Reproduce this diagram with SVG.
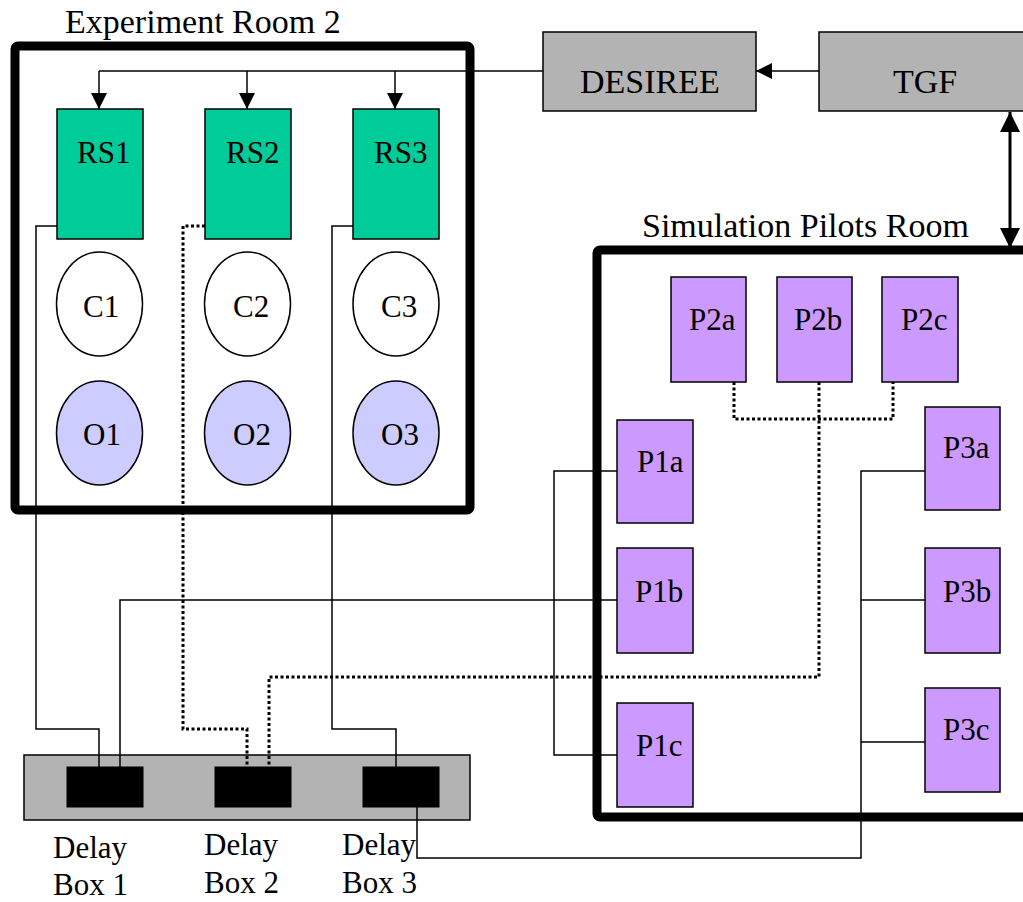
<svg xmlns="http://www.w3.org/2000/svg" width="1023" height="902" viewBox="0 0 1023 902">
  <style>
    text { font-family: "Liberation Serif", "Times New Roman", serif; fill: #000; }
    .title { font-size: 34px; }
    .lbl { font-size: 31px; }
    .room { fill: none; stroke: #000; stroke-width: 9; stroke-linejoin: round; }
    .rs { fill: #00CC99; stroke: #000; stroke-width: 1.5; }
    .ctl { fill: #FFFFFF; stroke: #000; stroke-width: 1.5; }
    .obs { fill: #CCCCFF; stroke: #000; stroke-width: 1.5; }
    .pilot { fill: #CC99FF; stroke: #000; stroke-width: 1.5; }
    .gray { fill: #B3B3B3; stroke: #000; stroke-width: 1.5; }
    .dbox { fill: #000; stroke: #000; stroke-width: 1; }
    .wire { fill: none; stroke: #000; stroke-width: 1.5; }
    .dot { fill: none; stroke: #000; stroke-width: 3; stroke-dasharray: 3 2.5; }
    .link { fill: none; stroke: #000; stroke-width: 1.5; }
    .bus { fill: none; stroke: #000; stroke-width: 3; }
  </style>
  <defs>
    <marker id="head" markerUnits="userSpaceOnUse" viewBox="0 0 16 16" refX="16" refY="8" markerWidth="16" markerHeight="16" orient="auto">
      <path d="M0,0 L16,8 L0,16 z" fill="#000"/>
    </marker>
    <marker id="bighead" markerUnits="userSpaceOnUse" viewBox="0 0 20 20" refX="20" refY="10" markerWidth="20" markerHeight="20" orient="auto-start-reverse">
      <path d="M0,0 L20,10 L0,20 z" fill="#000"/>
    </marker>
  </defs>

  <!-- rooms -->
  <g id="experiment-room">
    <rect class="room" x="15" y="46" width="455" height="464" rx="3"/>
    <text class="title" x="65" y="33">Experiment Room 2</text>
  </g>
  <g id="simulation-room">
    <rect class="room" x="597" y="250" width="500" height="567" rx="3"/>
    <text class="title" x="642" y="237">Simulation Pilots Room</text>
  </g>

  <!-- delay panel -->
  <g id="delay-panel">
    <rect class="gray" x="24" y="755" width="446" height="65"/>
  </g>

  <!-- connectors -->
  <g id="connectors">
    <!-- DESIREE feed to the remote stations -->
    <polyline class="link" points="543,71 99,71"/>
    <line class="link" x1="99" y1="71" x2="99" y2="109" marker-end="url(#head)"/>
    <line class="link" x1="247" y1="71" x2="247" y2="109" marker-end="url(#head)"/>
    <line class="link" x1="395" y1="71" x2="395" y2="109" marker-end="url(#head)"/>
    <!-- TGF to DESIREE -->
    <line class="link" x1="819" y1="71" x2="756" y2="71" marker-end="url(#head)"/>
    <!-- TGF to pilots room -->
    <line class="bus" x1="1010" y1="112" x2="1010" y2="248" marker-start="url(#bighead)" marker-end="url(#bighead)"/>

    <!-- RS wiring to delay boxes -->
    <polyline class="wire" points="57,226 36,226 36,729 99,729 99,767"/>
    <polyline class="dot" points="205,226 183,226 183,729 247,729 247,767"/>
    <polyline class="wire" points="353,226 332,226 332,729 396,729 396,767"/>

    <!-- pilot group 1 -->
    <polyline class="wire" points="617,471 554,471 554,755 617,755"/>
    <polyline class="wire" points="617,600 120,600 120,767"/>

    <!-- pilot group 2 -->
    <polyline class="dot" points="734,382 734,419 893,419 893,382"/>
    <polyline class="dot" points="819,382 819,677 269,677 269,767"/>

    <!-- pilot group 3 -->
    <polyline class="wire" points="925,471 861,471 861,858 417,858 417,807"/>
    <line class="wire" x1="861" y1="600" x2="925" y2="600"/>
    <line class="wire" x1="861" y1="742" x2="925" y2="742"/>
  </g>

  <!-- top systems -->
  <g id="desiree">
    <rect class="gray" x="543" y="32" width="213" height="79"/>
    <text class="title" x="580" y="93">DESIREE</text>
  </g>
  <g id="tgf">
    <rect class="gray" x="819" y="32" width="230" height="79"/>
    <text class="title" x="893" y="93">TGF</text>
  </g>

  <!-- remote stations -->
  <g id="rs1">
    <rect class="rs" x="57" y="109" width="86" height="130"/>
    <text class="lbl" x="77" y="163">RS1</text>
  </g>
  <g id="rs2">
    <rect class="rs" x="205" y="109" width="86" height="130"/>
    <text class="lbl" x="226" y="163">RS2</text>
  </g>
  <g id="rs3">
    <rect class="rs" x="353" y="109" width="86" height="130"/>
    <text class="lbl" x="374" y="163">RS3</text>
  </g>

  <!-- controllers -->
  <g id="c1">
    <ellipse class="ctl" cx="99.5" cy="304" rx="43" ry="52"/>
    <text class="lbl" x="83" y="317">C1</text>
  </g>
  <g id="c2">
    <ellipse class="ctl" cx="247.5" cy="304" rx="43" ry="52"/>
    <text class="lbl" x="233" y="317">C2</text>
  </g>
  <g id="c3">
    <ellipse class="ctl" cx="396" cy="304" rx="43" ry="52"/>
    <text class="lbl" x="381" y="317">C3</text>
  </g>

  <!-- observers -->
  <g id="o1">
    <ellipse class="obs" cx="99.5" cy="433" rx="43" ry="52"/>
    <text class="lbl" x="83" y="445">O1</text>
  </g>
  <g id="o2">
    <ellipse class="obs" cx="247.5" cy="433" rx="43" ry="52"/>
    <text class="lbl" x="233" y="445">O2</text>
  </g>
  <g id="o3">
    <ellipse class="obs" cx="396" cy="433" rx="43" ry="52"/>
    <text class="lbl" x="381" y="445">O3</text>
  </g>

  <!-- pseudo pilots -->
  <g id="p2a">
    <rect class="pilot" x="671" y="277" width="75" height="105"/>
    <text class="lbl" x="689" y="330">P2a</text>
  </g>
  <g id="p2b">
    <rect class="pilot" x="777" y="277" width="75" height="105"/>
    <text class="lbl" x="794" y="330">P2b</text>
  </g>
  <g id="p2c">
    <rect class="pilot" x="882" y="277" width="76" height="105"/>
    <text class="lbl" x="901" y="330">P2c</text>
  </g>
  <g id="p1a">
    <rect class="pilot" x="617" y="420" width="76" height="103"/>
    <text class="lbl" x="637" y="472">P1a</text>
  </g>
  <g id="p1b">
    <rect class="pilot" x="617" y="548" width="76" height="105"/>
    <text class="lbl" x="635" y="602">P1b</text>
  </g>
  <g id="p1c">
    <rect class="pilot" x="617" y="703" width="76" height="104"/>
    <text class="lbl" x="636" y="756">P1c</text>
  </g>
  <g id="p3a">
    <rect class="pilot" x="925" y="407" width="75" height="103"/>
    <text class="lbl" x="943" y="458">P3a</text>
  </g>
  <g id="p3b">
    <rect class="pilot" x="925" y="548" width="75" height="105"/>
    <text class="lbl" x="943" y="602">P3b</text>
  </g>
  <g id="p3c">
    <rect class="pilot" x="925" y="688" width="75" height="104"/>
    <text class="lbl" x="943" y="740">P3c</text>
  </g>

  <!-- delay boxes -->
  <g id="delay-box-1">
    <rect class="dbox" x="67" y="767" width="76" height="40"/>
    <text class="lbl" x="53" y="858">Delay</text>
    <text class="lbl" x="53" y="895">Box 1</text>
  </g>
  <g id="delay-box-2">
    <rect class="dbox" x="215" y="767" width="76" height="40"/>
    <text class="lbl" x="204" y="855">Delay</text>
    <text class="lbl" x="204" y="893">Box 2</text>
  </g>
  <g id="delay-box-3">
    <rect class="dbox" x="363" y="767" width="76" height="40"/>
    <text class="lbl" x="342" y="855">Delay</text>
    <text class="lbl" x="342" y="893">Box 3</text>
  </g>
</svg>
